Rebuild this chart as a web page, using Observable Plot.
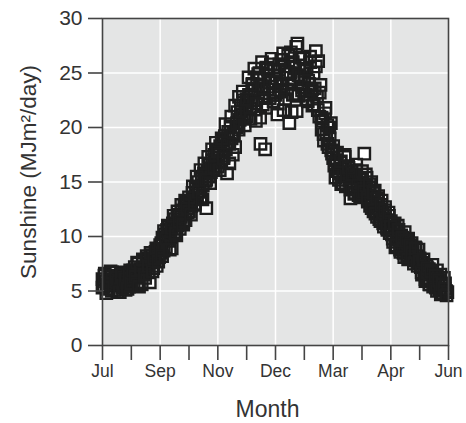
<!DOCTYPE html>
<html>
<head>
<meta charset="utf-8">
<script src="https://cdn.jsdelivr.net/npm/d3@7"></script>
<script src="https://cdn.jsdelivr.net/npm/@observablehq/plot@0.6"></script>
<style>
  html, body { margin: 0; padding: 0; background: #fff; }
  #chart svg { display: block; font-family: "Liberation Sans", Arial, sans-serif; color: #333; }
</style>
</head>
<body>
<div id="chart"></div>
<script>
// Daily sunshine readings, one array per month (Jul → Jun)
const jul = [6.1, 5.4, 6.6, 5.9, 5.2, 6.3, 5.7, 6.8, 5.0, 6.0, 5.5, 6.4, 5.8, 4.9, 6.2, 5.6, 6.7, 5.3, 6.0, 6.5, 5.1, 5.9, 6.3, 5.4, 6.9];
const aug = [6.0, 6.8, 5.5, 7.2, 6.4, 5.8, 7.5, 6.6, 7.0, 5.6, 7.8, 6.9, 6.2, 7.4, 8.0, 6.7, 5.8, 7.6, 8.3, 7.1, 7.9, 8.6, 7.3, 8.8, 8.1];
const sep = [8.5, 9.4, 9.9, 8.7, 10.2, 9.0, 10.6, 9.6, 10.9, 10.0, 8.9, 11.2, 10.4, 11.6, 10.1, 11.0, 12.0, 10.7, 11.8, 12.4, 11.3, 12.8, 11.5, 13.1, 12.2];
const oct = [12.3, 13.2, 12.8, 14.0, 13.5, 12.9, 14.4, 13.8, 15.0, 14.2, 13.6, 15.3, 14.7, 15.8, 15.1, 12.6, 16.0, 15.5, 16.6, 15.9, 17.0, 16.2, 17.5, 16.8, 17.9];
const nov = [16.4, 17.6, 18.3, 16.9, 18.8, 17.4, 19.2, 18.0, 15.8, 19.6, 18.5, 20.1, 19.0, 17.5, 19.4, 18.2, 20.0, 21.4, 19.8, 20.7, 22.0, 21.2, 22.5, 20.9, 21.8];
const dec = [21.0, 22.3, 23.0, 21.7, 22.8, 24.0, 22.5, 23.4, 20.6, 24.6, 23.2, 25.0, 18.5, 23.8, 22.1, 24.4, 18.0, 25.5, 23.5, 24.8, 22.7, 25.8, 24.2, 23.0, 25.2];
const jan = [23.0, 24.5, 22.2, 25.3, 23.8, 26.2, 24.0, 21.6, 25.6, 24.9, 23.5, 26.6, 20.4, 25.0, 21.4, 26.0, 24.4, 23.1, 27.4, 27.7, 22.9, 25.7, 24.6, 23.4, 26.3];
const feb = [24.5, 23.0, 25.4, 22.4, 24.0, 26.0, 23.3, 22.0, 25.0, 23.6, 27.0, 22.8, 26.1, 21.0, 23.9, 19.8, 20.6, 18.8, 21.3, 19.5, 20.2, 18.2, 19.0, 20.4, 17.6];
const mar = [17.2, 16.5, 15.4, 17.0, 16.0, 15.2, 16.8, 14.8, 16.2, 15.6, 17.3, 14.6, 15.9, 16.4, 15.1, 13.5, 16.0, 14.4, 15.5, 14.0, 16.1, 14.9, 13.8, 15.3, 14.2];
const apr = [15.2, 14.4, 17.6, 13.9, 15.4, 13.2, 14.5, 12.8, 15.0, 13.6, 12.3, 14.2, 13.0, 11.8, 13.7, 12.5, 11.4, 13.3, 12.0, 10.9, 12.7, 11.5, 10.6, 12.2, 10.3];
const may = [11.4, 10.2, 9.5, 10.8, 9.0, 10.5, 11.0, 9.7, 8.8, 10.1, 9.3, 8.5, 10.4, 9.1, 8.3, 9.8, 8.7, 8.0, 9.4, 8.6, 7.8, 9.0, 8.2, 7.6, 8.8];
const jun = [8.0, 7.2, 6.5, 7.6, 6.8, 5.9, 7.3, 6.2, 7.0, 5.6, 6.6, 7.4, 5.8, 6.3, 5.3, 6.9, 6.0, 5.1, 6.5, 5.5, 4.8, 6.2, 5.7, 5.0, 4.9];

// a second year's readings, overplotted on the same months
const julB = [5.3, 6.4, 4.8, 6.0, 5.6, 6.7, 5.1, 6.2, 5.8, 4.9, 6.5, 5.5, 6.1, 5.2, 6.6];
const augB = [5.7, 6.9, 6.3, 7.6, 5.4, 7.0, 7.9, 6.5, 8.2, 7.3, 8.5, 6.8, 8.0, 8.9, 7.7];
const sepB = [9.2, 8.2, 10.5, 9.8, 11.0, 8.8, 10.8, 11.9, 10.3, 12.3, 11.4, 12.9, 11.1, 13.3, 12.6];
const octB = [13.6, 12.0, 14.6, 13.0, 15.5, 14.1, 16.1, 13.4, 16.7, 15.2, 17.3, 14.9, 18.0, 16.4, 18.6];
const novB = [17.8, 16.1, 19.0, 17.2, 20.3, 18.6, 16.7, 21.0, 19.5, 22.0, 20.4, 22.8, 21.5, 23.3, 20.2];
const decB = [22.6, 24.6, 20.8, 23.9, 25.4, 22.2, 24.9, 20.9, 26.0, 23.6, 21.8, 25.3, 24.1, 26.3, 22.4];
const janB = [24.2, 21.2, 25.8, 23.3, 26.8, 22.6, 25.1, 24.0, 26.9, 23.0, 25.5, 21.5, 24.8, 26.4, 23.7];
const febB = [25.2, 22.6, 24.3, 26.5, 23.5, 22.1, 25.6, 21.6, 23.2, 20.9, 19.4, 21.8, 18.5, 20.0, 17.9];
const marB = [18.3, 16.7, 17.7, 15.8, 16.9, 14.9, 17.5, 15.5, 16.3, 14.3, 15.7, 13.9, 16.6, 14.7, 13.6];
const aprB = [16.0, 14.1, 15.7, 13.4, 14.8, 12.6, 14.0, 12.1, 13.5, 11.6, 12.9, 11.2, 12.4, 10.8, 11.9];
const mayB = [10.9, 9.8, 11.2, 9.2, 10.6, 8.6, 9.9, 8.1, 9.6, 7.9, 9.2, 8.4, 7.5, 8.9, 7.3];
const junB = [7.7, 6.7, 7.9, 6.1, 7.1, 5.6, 6.8, 5.4, 6.4, 5.0, 6.0, 4.7, 5.6, 5.2, 4.6];

const months = [jul, aug, sep, oct, nov, dec, jan, feb, mar, apr, may, jun];
const monthsB = [julB, augB, sepB, octB, novB, decB, janB, febB, marB, aprB, mayB, junB];
const xTicks = [0, 1, 2, 3, 4, 5, 6, 7, 8, 9, 10, 11, 12];
const xTickLabels = ["Jul", "", "Sep", "", "Nov", "", "Dec", "", "Mar", "", "Apr", "", "Jun"];
const yTicks = [0, 5, 10, 15, 20, 25, 30];
const xGrid = [2, 4, 6, 8, 10];
const yGrid = [5, 10, 15, 20, 25];
const xTitle = "Month";
const yTitle = "Sunshine (MJm²/day)";

// table: position in months since 1 July, and the reading
const toRows = (list) => list.flatMap((vals, m) => vals.map((v, i) => ({t: m + i / vals.length, v})));
const data = toRows(months).concat(toRows(monthsB));

const sq = {x: "t", y: "v", symbol: "square", r: 6.4};

const plot = Plot.plot({
  width: 466,
  height: 423,
  marginLeft: 102,
  marginRight: 18,
  marginTop: 18,
  marginBottom: 78,
  style: {fontFamily: "'Liberation Sans', Arial, sans-serif", color: "#333", background: "#fff"},
  x: {domain: [0, 12]},
  y: {domain: [0, 30]},
  marks: [
    Plot.frame({fill: "#e4e5e5", stroke: null}),
    Plot.gridX(xGrid, {stroke: "#fff", strokeOpacity: 1, strokeWidth: 1.5}),
    Plot.gridY(yGrid, {stroke: "#fff", strokeOpacity: 1, strokeWidth: 1.5}),
    Plot.dot(data, {...sq, fill: "#fff", stroke: "none"}),
    Plot.dot(data, {...sq, fill: "none", stroke: "#1e1e1e", strokeWidth: 2.4}),
    Plot.frame({stroke: "#444", strokeWidth: 1.6}),
    Plot.axisY({ticks: yTicks, tickSize: 14, tickPadding: 6, fontSize: 21, stroke: "#444", strokeWidth: 1.6, label: null}),
    Plot.axisX({ticks: xTicks, tickFormat: (d, i) => xTickLabels[i], tickSize: 15, tickPadding: 4, fontSize: 17.5, stroke: "#444", strokeWidth: 1.6, label: null}),
    Plot.text([yTitle], {frameAnchor: "left", rotate: -90, dx: -74, dy: -10, fontSize: 22.5, fill: "#333", textAnchor: "middle", lineAnchor: "middle"}),
    Plot.text([xTitle], {frameAnchor: "bottom", dx: -8, dy: 64, fontSize: 23, fill: "#333", textAnchor: "middle", lineAnchor: "middle"})
  ]
});
document.getElementById("chart").appendChild(plot);
</script>
</body>
</html>
